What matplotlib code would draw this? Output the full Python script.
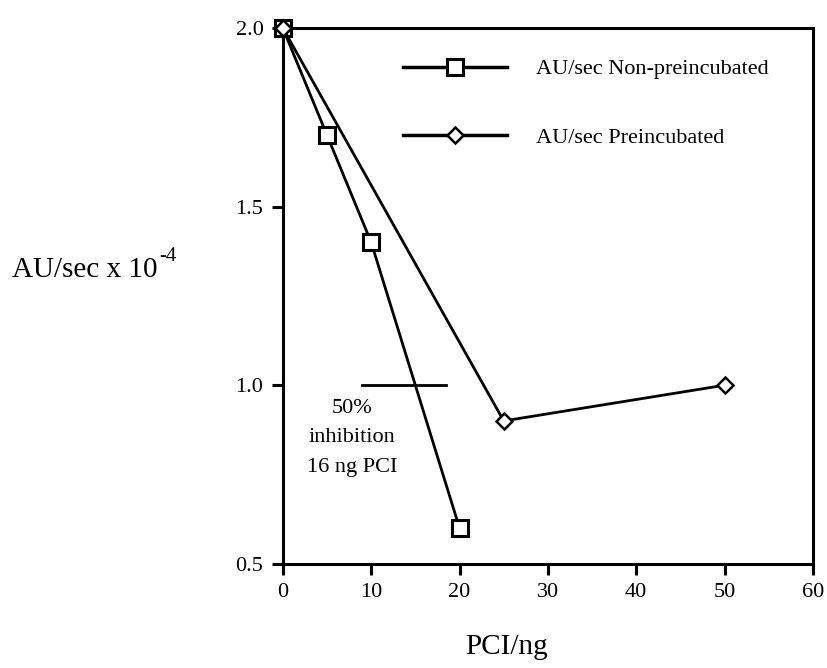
import matplotlib
matplotlib.use("Agg")
import matplotlib.pyplot as plt

# data
pci_nonpre = [0, 5, 10, 20]
rate_nonpre = [2.0, 1.7, 1.4, 0.6]
pci_pre = [0, 25, 50]
rate_pre = [2.0, 0.9, 1.0]

xticks = [0, 10, 20, 30, 40, 50, 60]
yticks = [0.5, 1.0, 1.5, 2.0]
ytick_labels = ["0.5", "1.0", "1.5", "2.0"]

half_inhib_level = 1.0
half_inhib_span = (9.0, 18.5)

plt.rcParams['font.family'] = ['Liberation Serif', 'DejaVu Serif']

fig = plt.figure(figsize=(8.27, 6.68), dpi=100)
ax = fig.add_axes([0.342, 0.156, 0.641, 0.802])

ax.plot(pci_nonpre, rate_nonpre, color='black', linewidth=2.0, marker='s',
        markersize=12, markerfacecolor='white', markeredgecolor='black',
        markeredgewidth=2.2, clip_on=False, zorder=3,
        label='AU/sec Non-preincubated')
ax.plot(pci_pre, rate_pre, color='black', linewidth=2.0, marker='D',
        markersize=8.5, markerfacecolor='white', markeredgecolor='black',
        markeredgewidth=1.8, clip_on=False, zorder=3,
        label='AU/sec Preincubated')

# 50% inhibition marker
ax.plot(half_inhib_span, [half_inhib_level, half_inhib_level],
        color='black', linewidth=2.0)
ax.text(7.8, 0.853, "50%\ninhibition\n16 ng PCI", ha='center', va='center',
        fontsize=16, linespacing=1.75)

ax.set_xlim(0, 60)
ax.set_ylim(0.5, 2.0)
ax.set_xticks(xticks)
ax.set_yticks(yticks)
ax.set_yticklabels(ytick_labels)
ax.tick_params(direction='out', length=8, width=2.2, labelsize=16, pad=6)
for side in ['top', 'right', 'left', 'bottom']:
    ax.spines[side].set_linewidth(2.2)

leg = ax.legend(loc='upper left', bbox_to_anchor=(0.487, 0.912),
                bbox_transform=fig.transFigure, frameon=False, fontsize=16,
                handlelength=4.7, handletextpad=1.3, labelspacing=2.15,
                borderpad=0, borderaxespad=0)
for line in leg.get_lines():
    line.set_linewidth(2.5)

ylab = fig.text(0.015, 0.596, "AU/sec x 10", fontsize=21,
                ha='left', va='center')
ax.annotate("-4", xy=(1.0, 1.0), xycoords=ylab, xytext=(1, 0),
            textcoords='offset points', fontsize=15, ha='left', va='center')
fig.text(0.612, 0.032, "PCI/ng", fontsize=21, ha='center', va='center')

fig.savefig("out.png", dpi=100)
